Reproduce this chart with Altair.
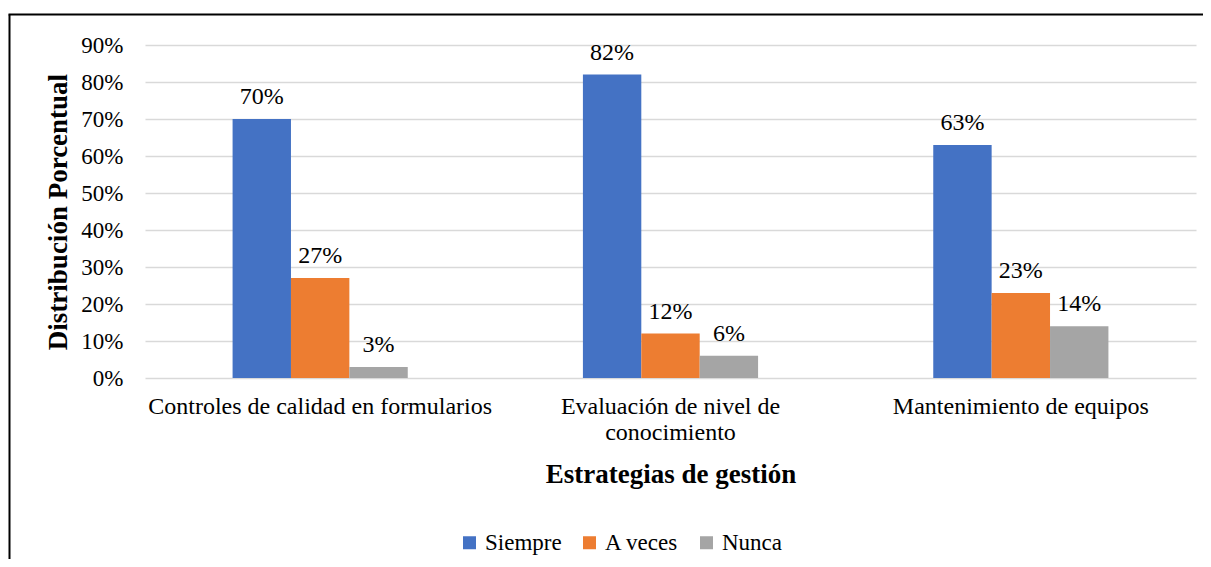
import altair as alt
import pandas as pd

categorias = ["Controles de calidad en formularios", "Evaluación de nivel de conocimiento", "Mantenimiento de equipos"]
series = ["Siempre", "A veces", "Nunca"]
siempre = [0.70, 0.82, 0.63]
a_veces = [0.27, 0.12, 0.23]
nunca = [0.03, 0.06, 0.14]
colores = ["#4472C4", "#ED7D31", "#A5A5A5"]
y_ticks = [0, 0.1, 0.2, 0.3, 0.4, 0.5, 0.6, 0.7, 0.8, 0.9]

rows = []
for s, vals in zip(series, [siempre, a_veces, nunca]):
    for c, v in zip(categorias, vals):
        rows.append({"categoria": c, "serie": s, "valor": v})
df = pd.DataFrame(rows)

FONT = "Liberation Serif"

x_enc = alt.X("categoria:N", sort=categorias, scale=alt.Scale(paddingInner=0.5, paddingOuter=0.25),
              axis=alt.Axis(title="Estrategias de gestión", labelAngle=0, domain=False, ticks=False,
                            labelFont=FONT, labelFontSize=24, labelColor="#000", labelPadding=16,
                            labelLineHeight=26, labelLimit=400,
                            labelExpr="datum.label == 'Evaluación de nivel de conocimiento' ? ['Evaluación de nivel de', 'conocimiento'] : datum.label",
                            titleFont=FONT, titleFontSize=27, titleFontWeight="bold", titleColor="#000",
                            titlePadding=17))
xo = alt.XOffset("serie:N", sort=series)
y_enc = alt.Y("valor:Q", scale=alt.Scale(domain=[0, 0.9], nice=False),
              axis=alt.Axis(title="Distribución Porcentual", format=".0%", values=y_ticks,
                            labelOverlap=False, tickCount=10,
                            domain=False, ticks=False, grid=True, gridColor="#d9d9d9", gridWidth=1.5,
                            labelFont=FONT, labelFontSize=23, labelColor="#000", labelPadding=22,
                            titleFont=FONT, titleFontSize=27, titleFontWeight="bold", titleColor="#000",
                            titlePadding=8))
color_enc = alt.Color("serie:N", sort=series, scale=alt.Scale(domain=series, range=colores),
                      legend=alt.Legend(title=None, orient="none", direction="horizontal",
                                        legendX=313, legendY=486, symbolType="square", symbolSize=169,
                                        symbolStrokeWidth=0, labelFont=FONT, labelFontSize=23,
                                        labelColor="#000", labelOffset=4, columnPadding=16))

bars = alt.Chart(df).mark_bar().encode(x=x_enc, xOffset=xo, y=y_enc, color=color_enc)
text = alt.Chart(df).mark_text(baseline="alphabetic", dy=-15, font=FONT, fontSize=24, color="#000").encode(
    x=x_enc, xOffset=xo, y=y_enc,
    text=alt.Text("valor:Q", format=".0%"))

frame_df = pd.DataFrame({"k": [0]})
left_line = alt.Chart(frame_df).mark_rule(color="#000", strokeWidth=2).encode(
    x=alt.value(-135.5), y=alt.value(-30.5), y2=alt.value(514))
top_line = alt.Chart(frame_df).mark_rule(color="#000", strokeWidth=2).encode(
    x=alt.value(-136.5), x2=alt.value(1058), y=alt.value(-30.5))

chart = alt.layer(bars, text, left_line, top_line).properties(
    width=1051, height=333,
    autosize=alt.AutoSizeParams(type="none"),
    padding={"left": 137, "top": 37, "right": 7, "bottom": 181},
).configure_view(stroke=None).configure_scale(bandWithNestedOffsetPaddingInner=0.0)

chart.save("out.html", embed_options={"renderer": "svg", "actions": False})
